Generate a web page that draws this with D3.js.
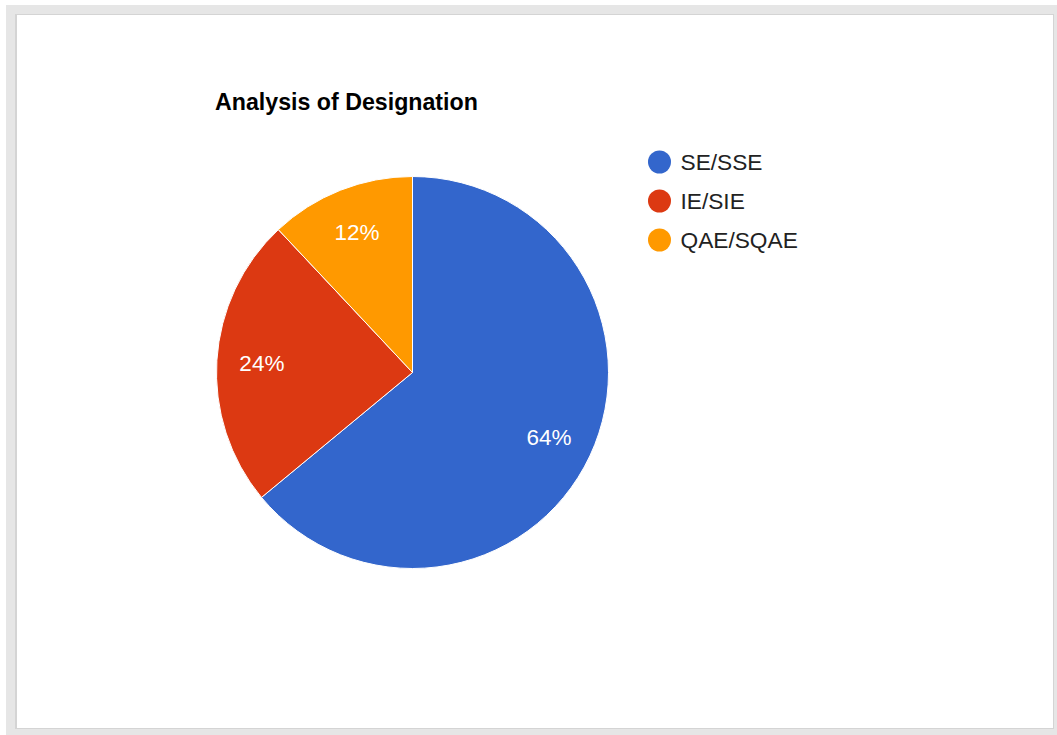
<!DOCTYPE html>
<html>
<head>
<meta charset="utf-8">
<script src="https://cdn.jsdelivr.net/npm/d3@7"></script>
<style>
  html, body { margin: 0; padding: 0; background: #fff; }
  svg { display: block; }
</style>
</head>
<body>
<svg id="chart"></svg>
<script>
// 데이터
const labels = ["SE/SSE", "IE/SIE", "QAE/SQAE"];
const values = [64, 24, 12];
const colors = ["#3366cc", "#dc3912", "#ff9900"];
const title = "Analysis of Designation";

const width = 1057, height = 735;
const cx = 412.5, cy = 372.5, radius = 196;
const fontFamily = "Arial, 'Liberation Sans', sans-serif";

const svg = d3.select("#chart")
    .attr("width", width)
    .attr("height", height);

// 바깥 회색 테두리
svg.append("rect")
    .attr("x", 6).attr("y", 5)
    .attr("width", width - 6).attr("height", height - 5)
    .attr("fill", "#e6e6e6");
svg.append("rect")
    .attr("x", 15).attr("y", 14)
    .attr("width", 1039).attr("height", 715)
    .attr("fill", "#d4d4d4");
svg.append("rect")
    .attr("x", 17).attr("y", 15)
    .attr("width", 1036).attr("height", 713)
    .attr("fill", "#ffffff");

// 제목
svg.append("text")
    .attr("x", 215)
    .attr("y", 110)
    .text(title)
    .style("font-family", fontFamily)
    .style("font-size", "23.2px")
    .style("font-weight", "bold")
    .style("fill", "#000");

const color = d3.scaleOrdinal().domain(labels).range(colors);

const pieData = labels.map((l, i) => ({ label: l, value: values[i] }));
const pie = d3.pie().value(d => d.value).sort(null);
const arc = d3.arc().innerRadius(0).outerRadius(radius);
const labelArc = d3.arc().innerRadius(radius * 0.77).outerRadius(radius * 0.77);

const g = svg.append("g").attr("transform", `translate(${cx}, ${cy})`);

const total = d3.sum(values);

g.selectAll("path")
    .data(pie(pieData))
    .enter()
    .append("path")
    .attr("d", arc)
    .attr("fill", d => color(d.data.label))
    .attr("stroke", "#fff")
    .attr("stroke-width", 1);

g.selectAll("text")
    .data(pie(pieData))
    .enter()
    .append("text")
    .attr("transform", d => `translate(${labelArc.centroid(d)})`)
    .attr("text-anchor", "middle")
    .attr("dy", "0.36em")
    .text(d => Math.round(d.data.value / total * 100) + "%")
    .style("font-family", fontFamily)
    .style("font-size", "22.5px")
    .style("fill", "#fff");

// 범례
const legend = svg.append("g").attr("transform", "translate(659.5, 162)");
pieData.forEach((d, i) => {
    legend.append("circle")
        .attr("cx", 0)
        .attr("cy", i * 39)
        .attr("r", 11.5)
        .attr("fill", color(d.label));
    legend.append("text")
        .attr("x", 21)
        .attr("y", i * 39)
        .attr("dy", "0.36em")
        .text(d.label)
        .style("font-family", fontFamily)
        .style("font-size", "22.7px")
        .style("fill", "#222");
});
</script>
</body>
</html>
